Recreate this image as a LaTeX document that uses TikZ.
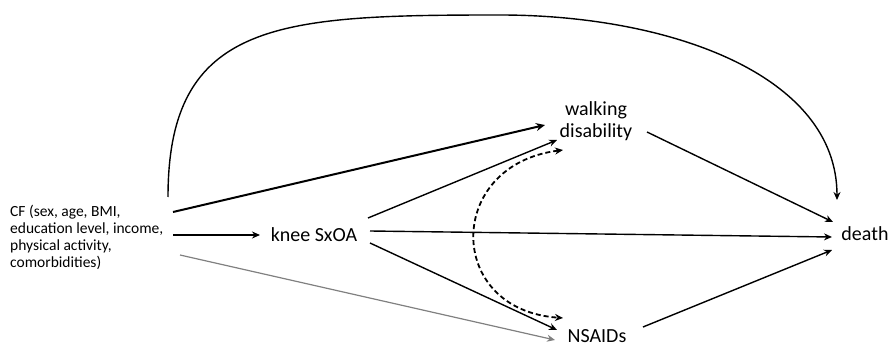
\documentclass[tikz,border=0pt]{standalone}
\usepackage{fontspec}
\setmainfont{Carlito}
\usetikzlibrary{arrows.meta}
\begin{document}
\begin{tikzpicture}[x=1pt,y=1pt,
  lbl/.style={inner sep=0pt, font=\fontsize{20}{22}\selectfont, align=center},
  conn/.style={line width=1.4pt, -{Stealth[length=8pt,width=7pt]}},
  thickconn/.style={line width=2pt, -{Stealth[length=9pt,width=8pt]}},
  greyconn/.style={line width=1.2pt, draw=black!50, -{Stealth[length=8pt,width=7pt]}},
  dashconn/.style={line width=1.8pt, dashed, dash pattern=on 5pt off 3pt, {Stealth[length=8pt,width=7pt]}-{Stealth[length=8pt,width=7pt]}}]
\useasboundingbox (0,0) rectangle (888,-347);
\node[inner sep=0pt, anchor=west, align=left, font=\fontsize{15.5}{17}\selectfont] (cf) at (10,-237)
  {CF (sex, age, BMI,\\education level, income,\\physical activity,\\comorbidities)};
\node[lbl] (knee) at (314,-235) {knee SxOA};
\node[lbl] (walk) at (596,-121) {walking\\disability};
\node[lbl] (death) at (865,-234) {death};
\node[lbl] (nsaid) at (597,-336) {NSAIDs};
% named end points
\coordinate (cfA) at (173,-212);
\coordinate (cfB) at (173,-235);
\coordinate (cfC) at (180,-255);
\coordinate (cfT) at (168,-197);
\coordinate (walkIn1) at (545,-125);
\coordinate (walkIn2) at (557,-140);
\coordinate (walkDash) at (563,-150);
\coordinate (walkOut) at (647,-132);
\coordinate (kneeIn) at (260,-235);
\coordinate (kneeA) at (368,-218);
\coordinate (kneeB) at (370,-231);
\coordinate (kneeC) at (370,-243);
\coordinate (nsIn1) at (557,-330);
\coordinate (nsIn2) at (555,-340);
\coordinate (nsDash) at (563,-318);
\coordinate (nsOut) at (643,-327);
\coordinate (deathTop) at (837,-200);
\coordinate (deathA) at (833,-222);
\coordinate (deathB) at (832,-237);
\coordinate (deathC) at (832,-250);
\coordinate (top) at (500,-15);
% connectors
\draw[thickconn] (cfA) -- (walkIn1);
\draw[conn] (cfB) -- (kneeIn);
\draw[greyconn] (cfC) -- (nsIn2);
\draw[conn] (kneeA) -- (walkIn2);
\draw[conn] (kneeB) -- (deathB);
\draw[conn] (kneeC) -- (nsIn1);
\draw[conn] (walkOut) -- (deathA);
\draw[conn] (nsOut) -- (deathC);
\draw[conn] (cfT) .. controls (168,-20) and (280,-15) .. (top)
  .. controls (670,-15) and (837,-75) .. (deathTop);
\draw[dashconn] (walkDash) .. controls (445,-165) and (445,-310) .. (nsDash);
\end{tikzpicture}
\end{document}
